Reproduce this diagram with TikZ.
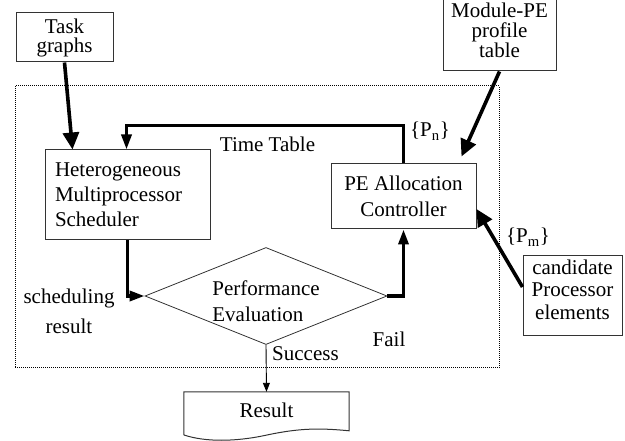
\documentclass[tikz,border=0pt]{standalone}
\usepackage{fontspec}
\setmainfont{Liberation Serif}
\usetikzlibrary{arrows.meta,shapes.geometric}
\begin{document}
\begin{tikzpicture}[x=1pt,y=-1pt,
  box/.style={draw=black!80, line width=1pt, inner sep=0pt, align=center},
  fnt/.style={font=\fontsize{21}{#1}\selectfont},
  bigarrow/.style={line width=3.6pt, -{Triangle[length=17pt,width=16pt]}},
  midarrow/.style={line width=3.4pt, -{Triangle[length=15pt,width=10pt]}},
  thinarrow/.style={line width=0.9pt, -{Triangle[length=9pt,width=7pt]}},
  frame/.style={line width=1pt, dash pattern=on 1pt off 1pt},
  lbl/.style={fnt=24, inner sep=0pt},
]
\useasboundingbox (0,0) rectangle (625,441);

% dotted frame
\draw[frame] (15,86) rectangle (499,368);

% boxes
\node[box, fnt=19, minimum width=97pt, minimum height=49pt] (task) at (64.5,37.5) {Task\\graphs};
\node[box, fnt=20, minimum width=113pt, minimum height=82pt] (module) at (499.5,30) {Module-PE\\profile\\table};
\node[box, fnt=25, text width=145pt, inner xsep=10pt, align=left, minimum height=90pt] (sched) at (127.5,195) {Heterogeneous\\Multiprocessor\\Scheduler};
\node[box, fnt=26, minimum width=145pt, minimum height=65pt] (pe) at (403.5,196.5) {PE Allocation\\Controller};
\node[box, fnt=22.5, minimum width=99pt, minimum height=80pt] (cand) at (572.5,296) {candidate\\Processor\\elements\rule[-13pt]{0pt}{0pt}};

% decision
\node[diamond, draw=black!80, line width=0.8pt, minimum width=242pt, minimum height=97pt, inner sep=0pt] (perf) at (266,296) {};
\node[fnt=26, align=left, inner sep=0pt] (perftext) at (266,301) {Performance\\Evaluation};

% result document
\node[fnt=24, minimum width=165pt, minimum height=36pt, inner sep=0pt] (result) at (266.5,410) {Result};
\draw[draw=black!80, line width=1pt] (result.north west) -- (result.north east) -- ++(0,39)
  .. controls (320,428) and (300,428) .. (267,435)
  .. controls (235,442) and (205,442) .. (184,435) -- cycle;

% connectors
\draw[bigarrow] (task.south) -- ([xshift=28pt]sched.north west);
\draw[midarrow] (pe.north) -- ++(0,-38) -| ([xshift=82pt]sched.north west);
\draw[bigarrow] (module.south) -- ([xshift=131pt,yshift=7pt]pe.north west);
\draw[bigarrow] ([yshift=9pt]cand.west) -- ([yshift=-12.5pt]pe.east);
\draw[midarrow] (sched.south) |- (perf.west);
\draw[midarrow] (perf.east) -| (pe.south);
\draw[thinarrow] (perf.south) -- (result.north);

% labels
\node[lbl, anchor=base] (tt) at (267.5,152) {Time Table};
\node[lbl, anchor=base] (pn) at (430,137) {\{P\textsubscript{n}\}};
\node[lbl, anchor=base] (pm) at (528,243) {\{P\textsubscript{m}\}};
\node[fnt=30, align=center, inner sep=0pt] (schedres) at (69,311) {scheduling\\result};
\node[lbl, anchor=base west] (succ) at (272,361) {Success};
\node[lbl, anchor=base] (fail) at (389,347) {Fail};
\end{tikzpicture}
\end{document}
